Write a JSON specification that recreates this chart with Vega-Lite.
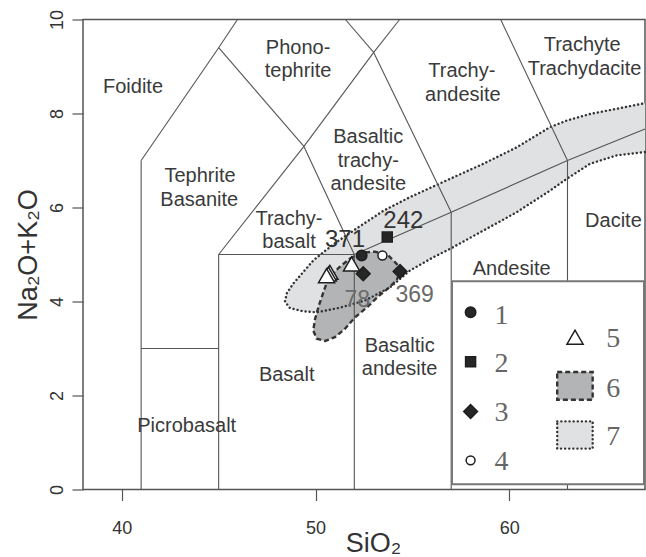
{
  "$schema": "https://vega.github.io/schema/vega-lite/v6.json",
  "width": 562,
  "height": 470,
  "autosize": {"type": "none"},
  "padding": {"left": 83, "top": 19.5, "right": 1, "bottom": 68},
  "background": "white",
  "config": {
    "view": {"stroke": "#555555", "strokeWidth": 1.5},
    "font": "Liberation Sans"
  },
  "datasets": {
    "light": [
      {"i": 0, "x": 67.0, "y": 7.18},
      {"i": 1, "x": 65.54, "y": 7.11},
      {"i": 2, "x": 64.16, "y": 6.93},
      {"i": 3, "x": 62.96, "y": 6.61},
      {"i": 4, "x": 62.1, "y": 6.36},
      {"i": 5, "x": 60.38, "y": 5.9},
      {"i": 6, "x": 58.66, "y": 5.51},
      {"i": 7, "x": 56.94, "y": 5.12},
      {"i": 8, "x": 56.07, "y": 4.94},
      {"i": 9, "x": 54.87, "y": 4.66},
      {"i": 10, "x": 53.84, "y": 4.3},
      {"i": 11, "x": 52.55, "y": 4.02},
      {"i": 12, "x": 51.17, "y": 3.86},
      {"i": 13, "x": 50.06, "y": 3.77},
      {"i": 14, "x": 49.37, "y": 3.79},
      {"i": 15, "x": 48.68, "y": 3.86},
      {"i": 16, "x": 48.42, "y": 4.0},
      {"i": 17, "x": 48.52, "y": 4.18},
      {"i": 18, "x": 48.85, "y": 4.38},
      {"i": 19, "x": 49.37, "y": 4.63},
      {"i": 20, "x": 49.9, "y": 4.88},
      {"i": 21, "x": 50.5, "y": 5.08},
      {"i": 22, "x": 51.1, "y": 5.27},
      {"i": 23, "x": 52.1, "y": 5.55},
      {"i": 24, "x": 53.5, "y": 5.93},
      {"i": 25, "x": 54.87, "y": 6.22},
      {"i": 26, "x": 56.94, "y": 6.61},
      {"i": 27, "x": 58.66, "y": 6.93},
      {"i": 28, "x": 60.38, "y": 7.28},
      {"i": 29, "x": 62.1, "y": 7.71},
      {"i": 30, "x": 62.96, "y": 7.85},
      {"i": 31, "x": 64.16, "y": 7.99},
      {"i": 32, "x": 65.54, "y": 8.1},
      {"i": 33, "x": 67.0, "y": 8.22}
    ],
    "dark": [
      {"i": 0, "x": 51.8, "y": 4.92},
      {"i": 1, "x": 52.38, "y": 5.04},
      {"i": 2, "x": 53.07, "y": 5.06},
      {"i": 3, "x": 53.75, "y": 4.98},
      {"i": 4, "x": 54.19, "y": 4.8},
      {"i": 5, "x": 54.36, "y": 4.62},
      {"i": 6, "x": 54.19, "y": 4.46},
      {"i": 7, "x": 53.75, "y": 4.28},
      {"i": 8, "x": 53.24, "y": 4.11},
      {"i": 9, "x": 52.72, "y": 3.9},
      {"i": 10, "x": 52.03, "y": 3.66},
      {"i": 11, "x": 51.52, "y": 3.42},
      {"i": 12, "x": 51.0, "y": 3.24},
      {"i": 13, "x": 50.49, "y": 3.16},
      {"i": 14, "x": 50.06, "y": 3.21},
      {"i": 15, "x": 49.88, "y": 3.38},
      {"i": 16, "x": 49.97, "y": 3.62},
      {"i": 17, "x": 50.2, "y": 3.95},
      {"i": 18, "x": 50.45, "y": 4.25},
      {"i": 19, "x": 50.65, "y": 4.48},
      {"i": 20, "x": 51.2, "y": 4.72},
      {"i": 21, "x": 51.8, "y": 4.92}
    ],
    "tas": [
      {"x": 41, "y": 0, "x2": 41, "y2": 7},
      {"x": 41, "y": 7, "x2": 45, "y2": 9.4},
      {"x": 45, "y": 9.4, "x2": 45.97, "y2": 10},
      {"x": 41, "y": 3, "x2": 45, "y2": 3},
      {"x": 45, "y": 0, "x2": 45, "y2": 5},
      {"x": 45, "y": 5, "x2": 52, "y2": 5},
      {"x": 52, "y": 0, "x2": 52, "y2": 5},
      {"x": 45, "y": 5, "x2": 49.4, "y2": 7.3},
      {"x": 49.4, "y": 7.3, "x2": 53, "y2": 9.3},
      {"x": 53, "y": 9.3, "x2": 54.34, "y2": 10},
      {"x": 52, "y": 5, "x2": 49.4, "y2": 7.3},
      {"x": 49.4, "y": 7.3, "x2": 45, "y2": 9.4},
      {"x": 57, "y": 0, "x2": 57, "y2": 5.9},
      {"x": 52, "y": 5, "x2": 57, "y2": 5.9},
      {"x": 57, "y": 5.9, "x2": 53, "y2": 9.3},
      {"x": 53, "y": 9.3, "x2": 51.54, "y2": 10},
      {"x": 57, "y": 5.9, "x2": 63, "y2": 7},
      {"x": 63, "y": 0, "x2": 63, "y2": 7},
      {"x": 63, "y": 7, "x2": 67, "y2": 7.67},
      {"x": 63, "y": 7, "x2": 59.55, "y2": 10}
    ],
    "regions": [
      {"x": 40.58, "y": 8.57, "label": "Foidite"},
      {"x": 49.1, "y": 9.39, "label": "Phono-"},
      {"x": 49.1, "y": 8.9, "label": "tephrite"},
      {"x": 57.55, "y": 8.91, "label": "Trachy-"},
      {"x": 57.6, "y": 8.4, "label": "andesite"},
      {"x": 63.76, "y": 9.45, "label": "Trachyte"},
      {"x": 63.88, "y": 8.95, "label": "Trachydacite"},
      {"x": 52.72, "y": 7.5, "label": "Basaltic"},
      {"x": 52.72, "y": 7.0, "label": "trachy-"},
      {"x": 52.72, "y": 6.5, "label": "andesite"},
      {"x": 44.04, "y": 6.68, "label": "Tephrite"},
      {"x": 44.0, "y": 6.17, "label": "Basanite"},
      {"x": 48.63, "y": 5.76, "label": "Trachy-"},
      {"x": 48.63, "y": 5.26, "label": "basalt"},
      {"x": 65.37, "y": 5.72, "label": "Dacite"},
      {"x": 60.12, "y": 4.7, "label": "Andesite"},
      {"x": 54.34, "y": 3.06, "label": "Basaltic"},
      {"x": 54.34, "y": 2.57, "label": "andesite"},
      {"x": 48.51, "y": 2.43, "label": "Basalt"},
      {"x": 43.35, "y": 1.35, "label": "Picrobasalt"}
    ],
    "pts": [
      {"x": 52.38, "y": 4.98, "t": "1"},
      {"x": 53.7, "y": 5.37, "t": "2"},
      {"x": 52.46, "y": 4.59, "t": "3"},
      {"x": 54.36, "y": 4.64, "t": "3"},
      {"x": 53.45, "y": 4.98, "t": "4"},
      {"x": 51.86, "y": 4.8, "t": "5"},
      {"x": 50.74, "y": 4.62, "t": "5"},
      {"x": 50.66, "y": 4.585, "t": "5"},
      {"x": 50.57, "y": 4.55, "t": "5"}
    ],
    "dark_labels": [
      {"x": 51.52, "y": 5.3, "label": "371"},
      {"x": 54.53, "y": 5.72, "label": "242"}
    ],
    "grey_labels": [
      {"x": 52.15, "y": 4.03, "label": "78"},
      {"x": 55.11, "y": 4.13, "label": "369"}
    ],
    "legbox": [
      {"x": 57.04, "y": 0.11, "x2": 66.95, "y2": 4.43}
    ],
    "legsym": [
      {"x": 58.0, "y": 3.77, "t": "1"},
      {"x": 58.0, "y": 2.72, "t": "2"},
      {"x": 58.0, "y": 1.66, "t": "3"},
      {"x": 58.0, "y": 0.62, "t": "4"},
      {"x": 63.39, "y": 3.24, "t": "5"}
    ],
    "legrect6": [
      {"x": 62.47, "y": 1.91, "x2": 64.3, "y2": 2.5}
    ],
    "legrect7": [
      {"x": 62.47, "y": 0.87, "x2": 64.3, "y2": 1.45}
    ],
    "leglabels": [
      {"x": 59.6, "y": 3.7, "label": "1"},
      {"x": 59.6, "y": 2.67, "label": "2"},
      {"x": 59.6, "y": 1.62, "label": "3"},
      {"x": 59.6, "y": 0.58, "label": "4"},
      {"x": 65.36, "y": 3.21, "label": "5"},
      {"x": 65.36, "y": 2.14, "label": "6"},
      {"x": 65.36, "y": 1.11, "label": "7"}
    ]
  },
  "encoding": {
    "x": {
      "field": "x",
      "type": "quantitative",
      "scale": {"domain": [38, 67], "nice": false, "zero": false},
      "axis": {
        "values": [40, 50, 60],
        "title": "SiO₂",
        "grid": false,
        "domain": false,
        "tickSize": 11,
        "tickColor": "#555555",
        "tickWidth": 1.2,
        "labelFont": "Liberation Sans",
        "labelFontSize": 18,
        "labelColor": "#333333",
        "labelBaseline": "middle",
        "labelPadding": 28,
        "titleFont": "Liberation Sans",
        "titleFontSize": 27,
        "titleFontWeight": "normal",
        "titleColor": "#333333",
        "titleBaseline": "alphabetic",
        "titlePadding": 14,
        "titleX": 290
      }
    },
    "y": {
      "field": "y",
      "type": "quantitative",
      "scale": {"domain": [0, 10], "nice": false, "zero": false},
      "axis": {
        "values": [0, 2, 4, 6, 8, 10],
        "title": "Na₂O+K₂O",
        "grid": false,
        "domain": false,
        "tickSize": 11,
        "tickColor": "#555555",
        "tickWidth": 1.2,
        "labelFont": "Liberation Sans",
        "labelFontSize": 18,
        "labelColor": "#333333",
        "labelAngle": -90,
        "labelAlign": "center",
        "labelBaseline": "middle",
        "labelPadding": 15,
        "titleFont": "Liberation Sans",
        "titleFontSize": 27,
        "titleFontWeight": "normal",
        "titleColor": "#333333",
        "titleBaseline": "alphabetic",
        "titlePadding": 12
      }
    }
  },
  "layer": [
    {
      "data": {"name": "light"},
      "mark": {"type": "line", "fill": "#e0e1e3", "strokeWidth": 0, "clip": true},
      "encoding": {"order": {"field": "i", "type": "quantitative"}}
    },
    {
      "data": {"name": "dark"},
      "mark": {"type": "line", "fill": "#b3b4b6", "strokeWidth": 0},
      "encoding": {"order": {"field": "i", "type": "quantitative"}}
    },
    {
      "data": {"name": "light"},
      "mark": {"type": "line", "color": "#333333", "strokeWidth": 2.4, "strokeDash": [0.1, 4], "strokeCap": "round"},
      "encoding": {"order": {"field": "i", "type": "quantitative"}}
    },
    {
      "data": {"name": "dark"},
      "mark": {"type": "line", "color": "#333333", "strokeWidth": 2.4, "strokeDash": [5, 3]},
      "encoding": {"order": {"field": "i", "type": "quantitative"}}
    },
    {
      "data": {"name": "tas"},
      "mark": {"type": "rule", "color": "#555555", "strokeWidth": 1.1},
      "encoding": {
        "x2": {"field": "x2"},
        "y2": {"field": "y2"}
      }
    },
    {
      "data": {"name": "regions"},
      "mark": {"type": "text", "font": "Liberation Sans", "fontSize": 20, "color": "#3a3a3a", "align": "center", "baseline": "middle"},
      "encoding": {"text": {"field": "label"}}
    },
    {
      "data": {"name": "pts"},
      "mark": {"type": "point", "filled": false, "stroke": "#1e1e1e", "strokeWidth": 1.5, "opacity": 1},
      "encoding": {
        "shape": {"field": "t", "type": "nominal", "scale": {"domain": ["1", "2", "3", "4", "5"], "range": ["circle", "square", "diamond", "circle", "triangle-up"]}, "legend": null},
        "fill": {"field": "t", "type": "nominal", "scale": {"domain": ["1", "2", "3", "4", "5"], "range": ["#262626", "#262626", "#262626", "#ffffff", "#ffffff"]}, "legend": null},
        "size": {"field": "t", "type": "nominal", "scale": {"type": "ordinal", "domain": ["1", "2", "3", "4", "5"], "range": [110, 100, 190, 80, 260]}, "legend": null}
      }
    },
    {
      "data": {"name": "dark_labels"},
      "mark": {"type": "text", "font": "Liberation Sans", "fontSize": 24, "color": "#333333", "align": "center", "baseline": "middle"},
      "encoding": {"text": {"field": "label"}}
    },
    {
      "data": {"name": "grey_labels"},
      "mark": {"type": "text", "font": "Liberation Sans", "fontSize": 23, "color": "#6a6a6a", "align": "center", "baseline": "middle"},
      "encoding": {"text": {"field": "label"}}
    },
    {
      "data": {"name": "legbox"},
      "mark": {"type": "rect", "fill": "#ffffff", "stroke": "#777777", "strokeWidth": 2},
      "encoding": {
        "x2": {"field": "x2"},
        "y2": {"field": "y2"}
      }
    },
    {
      "data": {"name": "legsym"},
      "mark": {"type": "point", "filled": false, "stroke": "#1e1e1e", "strokeWidth": 1.5, "opacity": 1},
      "encoding": {
        "shape": {"field": "t", "type": "nominal", "scale": {"domain": ["1", "2", "3", "4", "5"], "range": ["circle", "square", "diamond", "circle", "triangle-up"]}, "legend": null},
        "fill": {"field": "t", "type": "nominal", "scale": {"domain": ["1", "2", "3", "4", "5"], "range": ["#262626", "#262626", "#262626", "#ffffff", "#ffffff"]}, "legend": null},
        "size": {"field": "t", "type": "nominal", "scale": {"type": "ordinal", "domain": ["1", "2", "3", "4", "5"], "range": [110, 100, 190, 80, 260]}, "legend": null}
      }
    },
    {
      "data": {"name": "legrect6"},
      "mark": {"type": "rect", "fill": "#b3b4b6", "stroke": "#333333", "strokeWidth": 2.4, "strokeDash": [5, 3]},
      "encoding": {
        "x2": {"field": "x2"},
        "y2": {"field": "y2"}
      }
    },
    {
      "data": {"name": "legrect7"},
      "mark": {"type": "rect", "fill": "#e0e1e3", "stroke": "#333333", "strokeWidth": 2.4, "strokeDash": [0.1, 4], "strokeCap": "round"},
      "encoding": {
        "x2": {"field": "x2"},
        "y2": {"field": "y2"}
      }
    },
    {
      "data": {"name": "leglabels"},
      "mark": {"type": "text", "font": "Liberation Serif", "fontSize": 28, "color": "#666666", "align": "center", "baseline": "middle"},
      "encoding": {"text": {"field": "label"}}
    }
  ]
}
